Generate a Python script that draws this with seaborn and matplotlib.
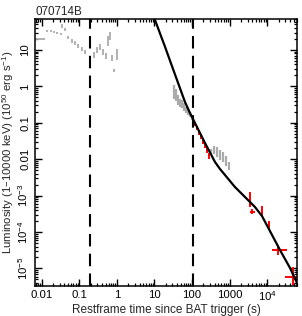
import numpy as np
import pandas as pd
import matplotlib
matplotlib.use("Agg")
import matplotlib.pyplot as plt
import seaborn as sns

# ---------------- data ----------------
title = "070714B"

# BAT (grey, early) points
bat_t = [0.0138, 0.0177, 0.0212, 0.0255, 0.0326, 0.0347, 0.0417, 0.0500, 0.0640,
         0.0769, 0.0923, 0.118, 0.142, 0.246, 0.296, 0.356, 0.427, 0.513,
         0.580, 0.655, 0.741, 0.838, 1.01]
bat_L = [33.2, 33.2, 31.2, 29.3, 27.5, 45.6, 36.0, 21.4, 17.7,
         15.6, 12.9, 10.6, 8.8, 7.3, 10.0, 12.1, 8.8, 6.8,
         17.7, 24.3, 6.0, 2.65, 7.5]
bat_err_dex = [0.03, 0.03, 0.03, 0.03, 0.03, 0.05, 0.04, 0.04, 0.05,
               0.05, 0.05, 0.05, 0.06, 0.08, 0.08, 0.08, 0.08, 0.08,
               0.14, 0.12, 0.08, 0.04, 0.14]
# BAT binned points with horizontal bars
batx_t = [0.0090, 0.193]
batx_lo = [0.0060, 0.180]
batx_hi = [0.0125, 0.205]
batx_L = [20.0, 3.4]

# XRT WT (grey) points
wt_t = [33.0, 37.2, 42.2, 47.6, 53.8, 60.8, 68.9, 77.8, 87.9, 99.3,
        318, 382, 459, 552, 664, 798, 957]
wt_L = [0.70, 0.58, 0.42, 0.35, 0.33, 0.27, 0.225, 0.198, 0.164, 0.136,
        0.0158, 0.0179, 0.0158, 0.0130, 0.0115, 0.0089, 0.0065]
wt_err_dex = [0.20, 0.17, 0.14, 0.12, 0.10, 0.10, 0.09, 0.08, 0.07, 0.06,
              0.08, 0.12, 0.14, 0.14, 0.15, 0.15, 0.12]

# XRT (red) early points
xr_t = [106, 119, 135, 153, 173, 195, 220, 249, 282]
xr_L = [0.119, 0.0927, 0.0719, 0.0525, 0.0407, 0.0316, 0.0231, 0.0179, 0.0123]
xr_err_dex = [0.06, 0.06, 0.06, 0.06, 0.06, 0.07, 0.07, 0.08, 0.08]

# XRT (red) late points with asymmetric errors
pc_t = [3470, 4030, 7100, 11100, 19600, 49000]
pc_tlo = [3400, 3470, 6950, 10900, 13100, 29500]
pc_thi = [3550, 4680, 7250, 11300, 32800, 81000]
pc_L = [8.1e-4, 3.63e-4, 3.8e-4, 1.55e-4, 3.2e-5, 5.8e-6]
pc_Llo = [4.9e-4, 3.1e-4, 2.75e-4, 1.2e-4, 2.35e-5, 3.5e-6]
pc_Lhi = [1.26e-3, 4.3e-4, 5.1e-4, 2.0e-4, 4.4e-5, 1.1e-5]

# Model curve
model_t = [9.5, 10.3, 19.0, 35.1, 64.7, 87.9, 119, 162, 220, 299, 406, 552, 750,
           1380, 2550, 4710, 7230, 11800, 21800, 40200, 65600]
model_L = [90.0, 66.7, 12.3, 2.12, 0.372, 0.186, 0.0989, 0.0525, 0.0279, 0.0153,
           0.00838, 0.00538, 0.00368, 0.00172, 0.000916, 0.000486, 0.000275,
           0.000106, 3.2e-5, 1.03e-5, 3.5e-6]

# Vertical dashed lines
vlines_t = [0.19, 103]

x_ticks = [0.01, 0.1, 1, 10, 100, 1000, 1e4]
x_ticklabels = ["0.01", "0.1", "1", "10", "100", "1000", r"10$^{4}$"]
y_ticks = [10, 1, 0.1, 0.01, 1e-3, 1e-4, 1e-5]
y_ticklabels = ["10", "1", "0.1", "0.01", r"10$^{-3}$", r"10$^{-4}$", r"10$^{-5}$"]
xlim = (0.00664, 63500)
ylim = (3.4e-6, 71)

# ---------------- styling ----------------
sns.set_theme(style="ticks")
plt.rcParams["font.family"] = ["Liberation Sans", "DejaVu Sans"]
plt.rcParams["mathtext.default"] = "regular"
plt.rcParams["axes.linewidth"] = 1.1

fig = plt.figure(figsize=(3.02, 3.16), dpi=100)
ax = fig.add_axes([0.1159, 0.0965, 0.8691, 0.8436])

grey = "#ababab"
red = "#ff0000"


def dex_err(vals, dex):
    v = np.asarray(vals, float)
    d = np.asarray(dex, float)
    return [v - v / 10 ** d, v * 10 ** d - v]


ax.errorbar(bat_t, bat_L, yerr=dex_err(bat_L, bat_err_dex), fmt="none",
            ecolor=grey, elinewidth=1.3, capsize=0)
ax.errorbar(batx_t, batx_L,
            xerr=[np.subtract(batx_t, batx_lo), np.subtract(batx_hi, batx_t)],
            yerr=dex_err(batx_L, [0.01, 0.04]), fmt="none", ecolor=grey,
            elinewidth=1.3, capsize=0)
ax.errorbar(wt_t, wt_L, yerr=dex_err(wt_L, wt_err_dex), fmt="none",
            ecolor=grey, elinewidth=1.6, capsize=0)
ax.errorbar(xr_t, xr_L, yerr=dex_err(xr_L, xr_err_dex), fmt="none",
            ecolor=red, elinewidth=1.4, capsize=0)
ax.errorbar(pc_t, pc_L,
            xerr=[np.subtract(pc_t, pc_tlo), np.subtract(pc_thi, pc_t)],
            yerr=[np.subtract(pc_L, pc_Llo), np.subtract(pc_Lhi, pc_L)],
            fmt="none", ecolor=red, elinewidth=1.4, capsize=0)

model_df = pd.DataFrame({"t": model_t, "L": model_L})
sns.lineplot(data=model_df, x="t", y="L", ax=ax, color="black", lw=1.6,
             sort=False, estimator=None)

for v in vlines_t:
    ax.axvline(v, color="black", lw=1.5, dashes=(6, 3.5))

ax.set_xscale("log")
ax.set_yscale("log")
ax.set_xlim(*xlim)
ax.set_ylim(*ylim)

ax.set_xticks(x_ticks)
ax.set_xticklabels(x_ticklabels)
ax.set_yticks(y_ticks)
ax.set_yticklabels(y_ticklabels, rotation=90, va="center")
ax.xaxis.set_minor_locator(matplotlib.ticker.LogLocator(base=10, subs=np.arange(2, 10), numticks=20))
ax.yaxis.set_minor_locator(matplotlib.ticker.LogLocator(base=10, subs=np.arange(2, 10), numticks=20))
ax.xaxis.set_minor_formatter(matplotlib.ticker.NullFormatter())
ax.yaxis.set_minor_formatter(matplotlib.ticker.NullFormatter())

ax.tick_params(which="both", direction="in", top=True, right=True,
               labelsize=8.2, colors="black")
ax.tick_params(axis="x", which="both", pad=3)
ax.tick_params(axis="y", which="both", pad=3.5)
ax.tick_params(which="major", length=5, width=1.0)
ax.tick_params(which="minor", length=2.5, width=0.9)
for s in ax.spines.values():
    s.set_visible(True)
    s.set_color("black")

ax.set_xlabel("Restframe time since BAT trigger (s)", fontsize=8.5, labelpad=0.5)
ax.set_ylabel(r"Luminosity (1–10000 keV) (10$^{50}$ erg s$^{-1}$)", fontsize=8.2, labelpad=0.5)
ax.set_title(title, loc="left", fontsize=8.4, pad=3)

fig.savefig("out.png", dpi=100)
